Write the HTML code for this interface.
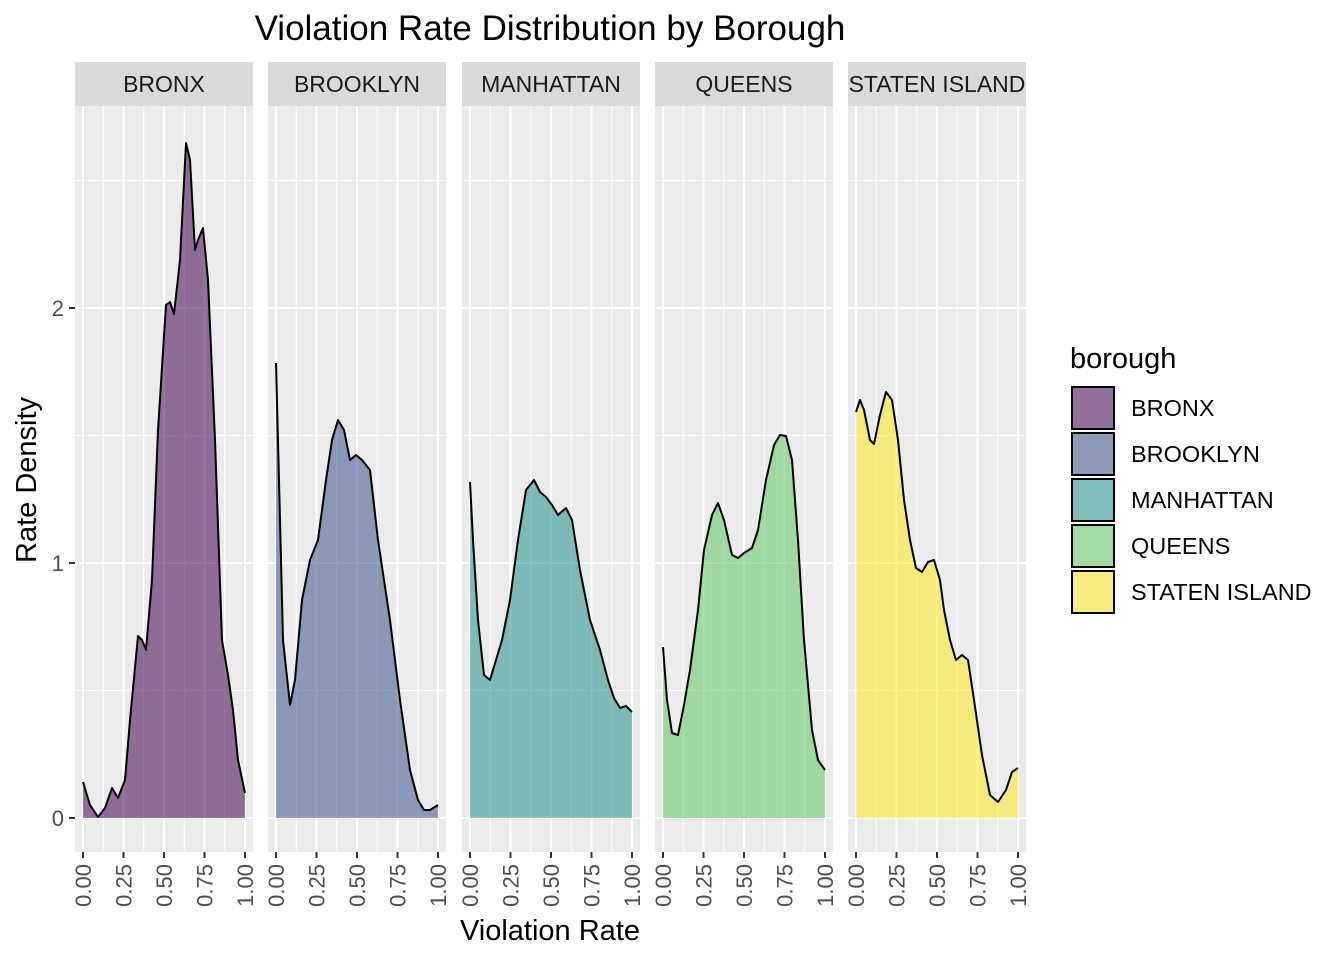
<!DOCTYPE html>
<html><head><meta charset="utf-8"><style>body{margin:0;background:#fff}svg{display:block}text{font-family:"Liberation Sans",Arial,sans-serif}</style></head><body>
<svg width="1344" height="960" viewBox="0 0 1344 960" xmlns="http://www.w3.org/2000/svg">
<defs>
<g id="panel">
<rect x="0" y="106" width="178" height="746" fill="#EBEBEB"/>
<g stroke="#fff" stroke-width="1">
<line x1="0" x2="178" y1="690.5" y2="690.5"/><line x1="0" x2="178" y1="435.5" y2="435.5"/><line x1="0" x2="178" y1="180.5" y2="180.5"/>
<line x1="28.25" x2="28.25" y1="106" y2="852"/><line x1="68.75" x2="68.75" y1="106" y2="852"/><line x1="109.25" x2="109.25" y1="106" y2="852"/><line x1="149.75" x2="149.75" y1="106" y2="852"/>
</g>
<g stroke="#fff" stroke-width="2">
<line x1="0" x2="178" y1="818" y2="818"/><line x1="0" x2="178" y1="563" y2="563"/><line x1="0" x2="178" y1="308" y2="308"/>
<line x1="8" x2="8" y1="106" y2="852"/><line x1="48.5" x2="48.5" y1="106" y2="852"/><line x1="89" x2="89" y1="106" y2="852"/><line x1="129.5" x2="129.5" y1="106" y2="852"/><line x1="170" x2="170" y1="106" y2="852"/>
</g>
<rect x="0" y="62" width="178" height="44" fill="#D9D9D9"/>
<g stroke="#333" stroke-width="2">
<line x1="8" x2="8" y1="852" y2="858"/><line x1="48.5" x2="48.5" y1="852" y2="858"/><line x1="89" x2="89" y1="852" y2="858"/><line x1="129.5" x2="129.5" y1="852" y2="858"/><line x1="170" x2="170" y1="852" y2="858"/>
</g>
</g>
<clipPath id="sc"><rect x="848" y="62" width="178" height="44"/></clipPath>
</defs>
<text x="550" y="40" font-size="35" text-anchor="middle" fill="#000">Violation Rate Distribution by Borough</text>
<use href="#panel" x="75"/><use href="#panel" x="268"/><use href="#panel" x="462"/><use href="#panel" x="655"/><use href="#panel" x="848"/>
<g font-size="23" fill="#1A1A1A" text-anchor="middle">
<text x="164" y="92">BRONX</text><text x="357" y="92">BROOKLYN</text><text x="551" y="92">MANHATTAN</text><text x="744" y="92">QUEENS</text>
<text x="937" y="92" clip-path="url(#sc)">STATEN ISLAND</text>
</g>
<g stroke="#000" stroke-width="2" stroke-linejoin="round">
<path fill="#440154" fill-opacity="0.55" d="M83,818 L83,782 L90,805 L98,817 L105,808 L112,788 L118,798 L125,780 L130,720 L138,636 L142,640 L146,650 L152,580 L158,430 L166,305 L170,302 L174,314 L180,260 L186,143 L190,160 L195,250 L198,240 L203,228 L208,280 L215,440 L222,640 L228,675 L233,710 L238,760 L245,793 L245,818 Z" stroke="none"/>
<path fill="none" d="M83,782 L90,805 L98,817 L105,808 L112,788 L118,798 L125,780 L130,720 L138,636 L142,640 L146,650 L152,580 L158,430 L166,305 L170,302 L174,314 L180,260 L186,143 L190,160 L195,250 L198,240 L203,228 L208,280 L215,440 L222,640 L228,675 L233,710 L238,760 L245,793"/>
<path fill="#3B528B" fill-opacity="0.55" stroke="none" d="M276,818 L276,363 L279,480 L283,640 L290,705 L295,680 L302,600 L310,560 L318,540 L326,480 L332,440 L338,420 L344,430 L350,460 L356,455 L362,460 L370,470 L378,540 L390,620 L400,700 L410,770 L418,800 L424,810 L430,810 L438,805 L438,818 Z"/>
<path fill="none" d="M276,363 L279,480 L283,640 L290,705 L295,680 L302,600 L310,560 L318,540 L326,480 L332,440 L338,420 L344,430 L350,460 L356,455 L362,460 L370,470 L378,540 L390,620 L400,700 L410,770 L418,800 L424,810 L430,810 L438,805"/>
<path fill="#21908C" fill-opacity="0.55" stroke="none" d="M470,818 L470,482 L473,540 L478,620 L484,675 L490,680 L496,660 L502,640 L510,600 L518,540 L526,490 L534,480 L540,492 L546,497 L552,505 L558,515 L566,508 L572,520 L580,570 L590,620 L600,650 L608,680 L614,698 L620,708 L626,706 L632,712 L632,818 Z"/>
<path fill="none" d="M470,482 L473,540 L478,620 L484,675 L490,680 L496,660 L502,640 L510,600 L518,540 L526,490 L534,480 L540,492 L546,497 L552,505 L558,515 L566,508 L572,520 L580,570 L590,620 L600,650 L608,680 L614,698 L620,708 L626,706 L632,712"/>
<path fill="#5DC863" fill-opacity="0.55" stroke="none" d="M663,818 L663,647 L667,700 L672,733 L678,735 L684,705 L690,670 L698,610 L704,550 L712,515 L718,503 L724,520 L732,555 L738,558 L744,553 L752,548 L758,530 L766,480 L774,445 L780,435 L786,436 L792,460 L798,540 L804,640 L812,730 L818,760 L825,770 L825,818 Z"/>
<path fill="none" d="M663,647 L667,700 L672,733 L678,735 L684,705 L690,670 L698,610 L704,550 L712,515 L718,503 L724,520 L732,555 L738,558 L744,553 L752,548 L758,530 L766,480 L774,445 L780,435 L786,436 L792,460 L798,540 L804,640 L812,730 L818,760 L825,770"/>
<path fill="#FDE725" fill-opacity="0.55" stroke="none" d="M856,818 L856,412 L860,400 L864,410 L870,440 L874,444 L880,415 L886,392 L892,400 L898,440 L904,500 L910,540 L916,568 L922,572 L928,562 L934,560 L940,580 L944,610 L950,640 L956,660 L962,655 L968,660 L974,700 L982,755 L990,795 L998,802 L1006,790 L1012,772 L1018,768 L1018,818 Z"/>
<path fill="none" d="M856,412 L860,400 L864,410 L870,440 L874,444 L880,415 L886,392 L892,400 L898,440 L904,500 L910,540 L916,568 L922,572 L928,562 L934,560 L940,580 L944,610 L950,640 L956,660 L962,655 L968,660 L974,700 L982,755 L990,795 L998,802 L1006,790 L1012,772 L1018,768"/>
</g>
<g stroke="#333" stroke-width="2"><line x1="69" x2="75" y1="818" y2="818"/><line x1="69" x2="75" y1="563" y2="563"/><line x1="69" x2="75" y1="308" y2="308"/></g>
<g font-size="22" fill="#4D4D4D" text-anchor="end"><text x="64" y="826">0</text><text x="64" y="571">1</text><text x="64" y="316">2</text></g>
<g font-size="22" fill="#4D4D4D" text-anchor="end">
<text transform="translate(91,864) rotate(-90)">0.00</text><text transform="translate(131.5,864) rotate(-90)">0.25</text><text transform="translate(172,864) rotate(-90)">0.50</text><text transform="translate(212.5,864) rotate(-90)">0.75</text><text transform="translate(253,864) rotate(-90)">1.00</text>
<text transform="translate(284,864) rotate(-90)">0.00</text><text transform="translate(324.5,864) rotate(-90)">0.25</text><text transform="translate(365,864) rotate(-90)">0.50</text><text transform="translate(405.5,864) rotate(-90)">0.75</text><text transform="translate(446,864) rotate(-90)">1.00</text>
<text transform="translate(478,864) rotate(-90)">0.00</text><text transform="translate(518.5,864) rotate(-90)">0.25</text><text transform="translate(559,864) rotate(-90)">0.50</text><text transform="translate(599.5,864) rotate(-90)">0.75</text><text transform="translate(640,864) rotate(-90)">1.00</text>
<text transform="translate(671,864) rotate(-90)">0.00</text><text transform="translate(711.5,864) rotate(-90)">0.25</text><text transform="translate(752,864) rotate(-90)">0.50</text><text transform="translate(792.5,864) rotate(-90)">0.75</text><text transform="translate(833,864) rotate(-90)">1.00</text>
<text transform="translate(864,864) rotate(-90)">0.00</text><text transform="translate(904.5,864) rotate(-90)">0.25</text><text transform="translate(945,864) rotate(-90)">0.50</text><text transform="translate(985.5,864) rotate(-90)">0.75</text><text transform="translate(1026,864) rotate(-90)">1.00</text>
</g>
<text x="550" y="940" font-size="29" text-anchor="middle">Violation Rate</text>
<text transform="translate(36,480) rotate(-90)" font-size="29" text-anchor="middle">Rate Density</text>
<text x="1070" y="368" font-size="29">borough</text>
<g stroke="#000" stroke-width="2">
<rect x="1072" y="387" width="42" height="42" fill="#F2F2F2"/><rect x="1072" y="387" width="42" height="42" fill="#440154" fill-opacity="0.55"/>
<rect x="1072" y="433" width="42" height="42" fill="#F2F2F2"/><rect x="1072" y="433" width="42" height="42" fill="#3B528B" fill-opacity="0.55"/>
<rect x="1072" y="479" width="42" height="42" fill="#F2F2F2"/><rect x="1072" y="479" width="42" height="42" fill="#21908C" fill-opacity="0.55"/>
<rect x="1072" y="525" width="42" height="42" fill="#F2F2F2"/><rect x="1072" y="525" width="42" height="42" fill="#5DC863" fill-opacity="0.55"/>
<rect x="1072" y="571" width="42" height="42" fill="#F2F2F2"/><rect x="1072" y="571" width="42" height="42" fill="#FDE725" fill-opacity="0.55"/>
</g>
<g font-size="23.5" fill="#000"><text x="1131" y="416">BRONX</text><text x="1131" y="462">BROOKLYN</text><text x="1131" y="508">MANHATTAN</text><text x="1131" y="554">QUEENS</text><text x="1131" y="600">STATEN ISLAND</text></g>
</svg>
</body></html>
